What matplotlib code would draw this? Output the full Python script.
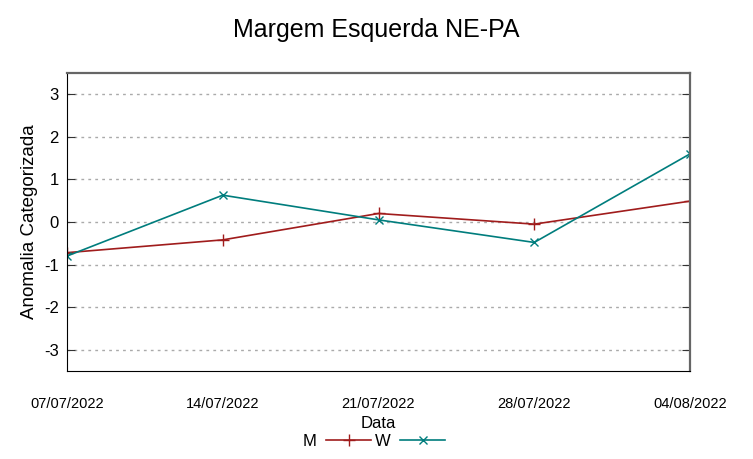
import matplotlib
matplotlib.use("Agg")
import matplotlib.pyplot as plt
from datetime import datetime

dates = ["07/07/2022", "14/07/2022", "21/07/2022", "28/07/2022", "04/08/2022"]
m_values = [-0.72, -0.42, 0.20, -0.05, 0.49]
w_values = [-0.80, 0.63, 0.05, -0.48, 1.60]
y_ticks = [-3, -2, -1, 0, 1, 2, 3]

x = [datetime.strptime(d, "%d/%m/%Y") for d in dates]

plt.rcParams['font.family'] = ['Liberation Sans', 'DejaVu Sans']

fig = plt.figure(figsize=(7.53, 4.59), dpi=100)
ax = fig.add_axes([67/753, 1-371/459, (690-67)/753, (371-73)/459])

ax.plot(x, m_values, color='#a01c1c', lw=1.2, marker='+', ms=8, mew=1.0, label='M')
ax.plot(x, w_values, color='#007d7d', lw=1.2, marker='x', ms=6, mew=1.0, label='W')

ax.set_xlim(x[0], x[-1])
ax.set_ylim(-3.5, 3.5)
ax.set_yticks(y_ticks)
ax.set_yticklabels([str(t) for t in y_ticks], fontsize=12)
ax.set_xticks(x)
ax.set_xticklabels(dates, fontsize=10.5)
ax.tick_params(axis='x', length=0, pad=19)
ax.tick_params(axis='y', direction='in', length=6, color='#333333', right=True, pad=6)
ax.grid(axis='y', linestyle=(0, (2, 3)), color='#aaaaaa', lw=1)

for side in ['left', 'bottom']:
    ax.spines[side].set_color('black')
for side in ['top', 'right']:
    ax.spines[side].set_color('#666666')
    ax.spines[side].set_linewidth(1.6)

ax.set_ylabel('Anomalia Categorizada', fontsize=13.5, labelpad=4)
ax.set_xlabel('Data', fontsize=12, labelpad=3)
fig.suptitle('Margem Esquerda NE-PA', fontsize=18, y=1-30/459, va='center')

leg = fig.legend(loc='center', bbox_to_anchor=(374/753, 1-441/459), ncol=2,
                 frameon=False, markerfirst=False, fontsize=12,
                 handlelength=2.7, columnspacing=0.2, handletextpad=0.6, borderpad=0)

fig.savefig('out.png', dpi=100)
